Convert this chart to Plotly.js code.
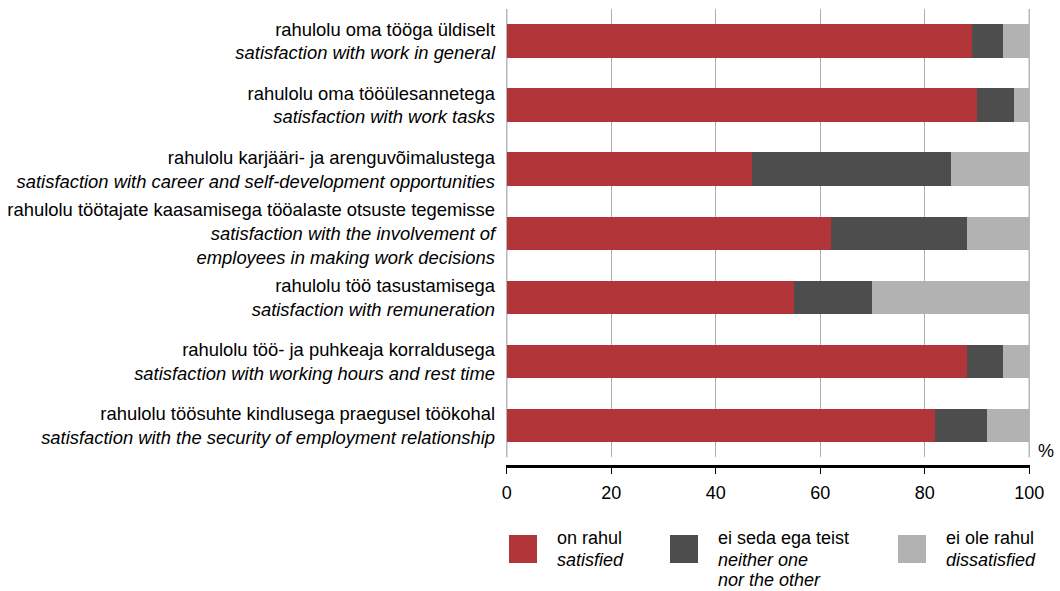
<!DOCTYPE html>
<html>
<head>
<meta charset="utf-8">
<script src="https://cdn.plot.ly/plotly-3.0.1.min.js"></script>
<style>html,body{margin:0;padding:0;background:#fff}#chart{width:1060px;height:591px}</style>
</head>
<body>
<div id="chart"></div>
<script>
const categories = [
  "rahulolu oma tööga üldiselt<br><i>satisfaction with work in general</i>",
  "rahulolu oma tööülesannetega<br><i>satisfaction with work tasks</i>",
  "rahulolu karjääri- ja arenguvõimalustega<br><i>satisfaction with career and self-development opportunities</i>",
  "rahulolu töötajate kaasamisega tööalaste otsuste tegemisse<br><i>satisfaction with the involvement of</i><br><i>employees in making work decisions</i>",
  "rahulolu töö tasustamisega<br><i>satisfaction with remuneration</i>",
  "rahulolu töö- ja puhkeaja korraldusega<br><i>satisfaction with working hours and rest time</i>",
  "rahulolu töösuhte kindlusega praegusel töökohal<br><i>satisfaction with the security of employment relationship</i>"
];
const satisfied    = [89, 90, 47, 62, 55, 88, 82];
const neither      = [6, 7, 38, 26, 15, 7, 10];
const dissatisfied = [5, 3, 15, 12, 30, 5, 8];
const seriesNames = ["on rahul|<i>satisfied</i>", "ei seda ega teist|<i>neither one</i>|<i>nor the other</i>", "ei ole rahul|<i>dissatisfied</i>"];
const seriesColors = ["#B2353A", "#4D4D4D", "#B2B2B2"];
const xTicks = [0, 20, 40, 60, 80, 100];

const W = 1060, H = 591;
const M = {l: 506, r: 30, t: 9, b: 125};
const PH = H - M.t - M.b;
const YDOM = [0.019, 1];
const py = y => (H - M.b - y) / PH;           // pixel y -> paper y
const px = x => (x - M.l) / (W - M.l - M.r);  // pixel x -> paper x

const seriesData = [satisfied, neither, dissatisfied];
const traces = seriesData.map((vals, i) => ({
  type: 'bar', orientation: 'h',
  x: vals, y: categories,
  name: seriesNames[i].split('|')[0],
  marker: {color: seriesColors[i], line: {width: 0}},
  showlegend: false,
  hoverinfo: 'x+name'
}));

const font = {family: 'Liberation Sans, Arial, sans-serif', size: 18, color: '#000'};
const catFont = Object.assign({}, font, {size: 18.4});

// custom legend
const legendX = [509, 670, 898];
const lineY = [538, 559.5, 580];
const shapes = [], annotations = [];
legendX.forEach((x, i) => {
  shapes.push({type: 'rect', xref: 'paper', yref: 'paper',
    x0: px(x), x1: px(x + 28), y0: py(535), y1: py(563),
    fillcolor: seriesColors[i], line: {width: 0}});
  seriesNames[i].split('|').forEach((t, j) => {
    annotations.push({xref: 'paper', yref: 'paper', x: px(x + 46), y: py(lineY[j]),
      xanchor: 'left', yanchor: 'middle', align: 'left', showarrow: false,
      text: t, font: font});
  });
});
annotations.push({xref: 'paper', yref: 'paper', x: px(1036), y: py(451),
  xanchor: 'left', yanchor: 'middle', showarrow: false, text: '%', font: font});

// gridlines at the range ends (Plotly clips those at the plot edges)
[xTicks[0], xTicks[xTicks.length - 1]].forEach(v => {
  shapes.push({type: 'line', layer: 'below', xref: 'x', yref: 'paper',
    x0: v, x1: v, y0: YDOM[0], y1: YDOM[1], line: {color: '#ADADAD', width: 1.3}});
});

const layout = {
  width: W, height: H,
  margin: M,
  barmode: 'stack',
  bargap: 0.48,
  paper_bgcolor: '#fff', plot_bgcolor: '#fff',
  font: font,
  xaxis: {
    range: [-0.15, 100.15], tickvals: xTicks, ticktext: xTicks.map(String),
    anchor: 'free', position: 0,
    showgrid: true, gridcolor: '#ADADAD', gridwidth: 1.3,
    zeroline: false,
    showline: true, linecolor: '#000', linewidth: 2.5,
    ticks: 'outside', ticklen: 6, tickcolor: '#000', tickwidth: 1,
    ticklabelstandoff: 4,
    tickfont: font, fixedrange: true
  },
  yaxis: {
    domain: YDOM,
    autorange: 'reversed',
    showgrid: false, zeroline: false, showline: false,
    ticks: '', ticklabelstandoff: 10,
    tickfont: catFont, fixedrange: true
  },
  shapes: shapes,
  annotations: annotations
};

Plotly.newPlot('chart', traces, layout, {displayModeBar: false, staticPlot: true});
</script>
</body>
</html>
